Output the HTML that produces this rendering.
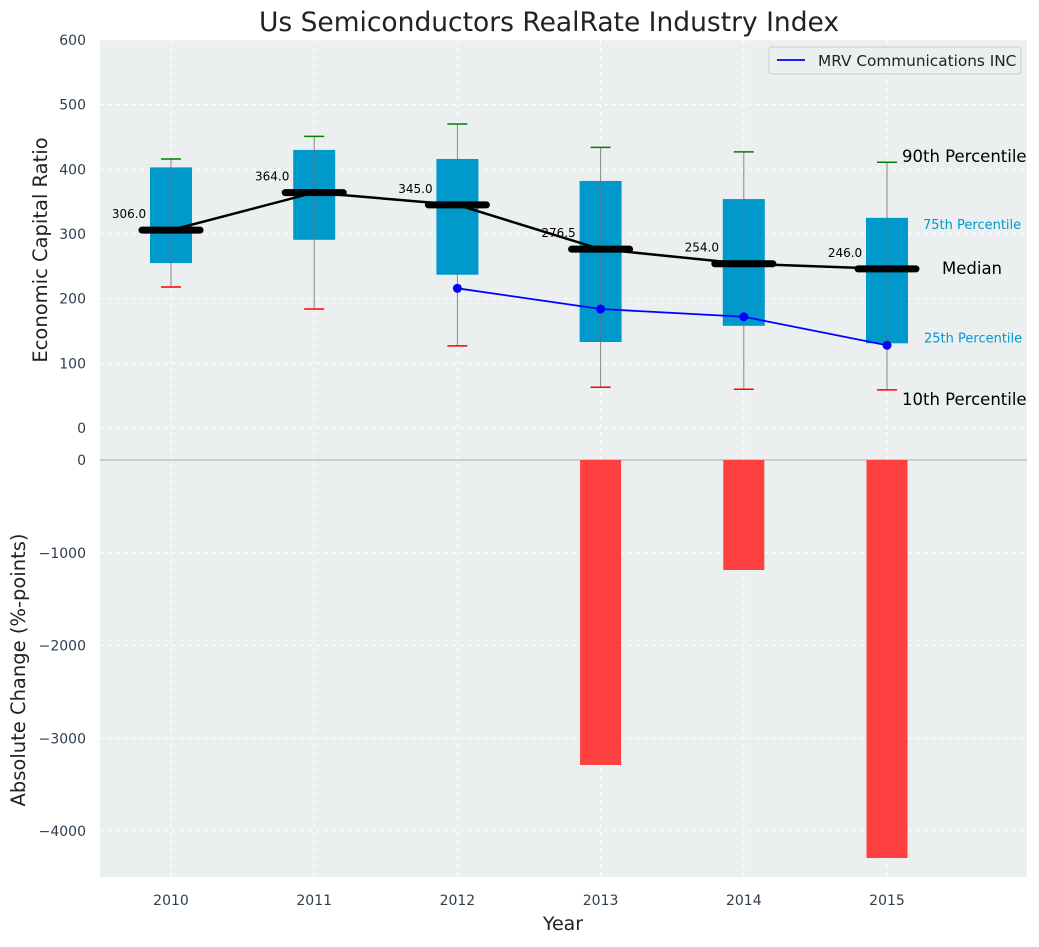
<!DOCTYPE html>
<html><head><meta charset="utf-8"><style>
body{margin:0;background:#fff;font-family:"Liberation Sans","DejaVu Sans",sans-serif}
</style></head><body>
<svg id="c" width="1039" height="942" xmlns="http://www.w3.org/2000/svg" font-family="DejaVu Sans, Liberation Sans, sans-serif"></svg>
<script>
const years=[2010,2011,2012,2013,2014,2015];
const p10=[218,184,127,63,60,59];
const p25=[255,291,237,133,158,131];
const med=[306,364,345,276.5,254,246];
const p75=[403,430,416,382,354,325];
const p90=[416,451,470,434,427,411];
const mrvYears=[2012,2013,2014,2015];
const mrv=[216,184,172,128];
const changeYears=[2013,2014,2015];
const change=[-3288,-1186,-4291];
const topTicks=[0,100,200,300,400,500,600];
const botTicks=[0,-1000,-2000,-3000,-4000];

const svg=document.getElementById('c');const NS='http://www.w3.org/2000/svg';
function el(t,a,txt){const e=document.createElementNS(NS,t);for(const k in a)e.setAttribute(k,a[k]);if(txt!==undefined)e.textContent=txt;svg.appendChild(e);return e;}
const X=v=>171+(v-2010)*143.2;
const YT=v=>428-v*0.6467;
const YB=v=>460+(-v)*0.09275;
let e;
e=el('rect',{x:100,y:40,width:927,height:837,fill:'#eceff0'});

years.forEach(y=>{e=el('line',{x1:X(y),x2:X(y),y1:40,y2:877,stroke:'#fff','stroke-dasharray':'4,4'});
});
topTicks.forEach(t=>{e=el('line',{x1:100,x2:1027,y1:YT(t),y2:YT(t),stroke:'#fff','stroke-dasharray':'4,4'});

e=el('text',{x:86,y:YT(t)+5,'text-anchor':'end','font-size':14,fill:'#2e3f50'},t);
});
botTicks.forEach(t=>{e=el('line',{x1:100,x2:1027,y1:YB(t),y2:YB(t),stroke:'#fff','stroke-dasharray':'4,4'});

e=el('text',{x:86,y:YB(t)+5,'text-anchor':'end','font-size':14,fill:'#2e3f50'},t===0?'0':'\u2212'+(-t));
});
e=el('line',{x1:100,x2:1027,y1:460,y2:460,stroke:'#aaa','stroke-width':1});

years.forEach((y,i)=>{const x=X(y);
e=el('line',{x1:x,x2:x,y1:YT(p90[i]),y2:YT(p10[i]),stroke:'#888','stroke-width':1});

e=el('rect',{x:x-21,y:YT(p75[i]),width:42,height:YT(p25[i])-YT(p75[i]),fill:'#0099cc'});

e=el('line',{x1:x,x2:x,y1:YT(p75[i]),y2:YT(p25[i]),stroke:'#4a7a90','stroke-width':1});

e=el('line',{x1:x-10,x2:x+10,y1:YT(p90[i]),y2:YT(p90[i]),stroke:'green','stroke-width':1.5});

e=el('line',{x1:x-10,x2:x+10,y1:YT(p10[i]),y2:YT(p10[i]),stroke:'red','stroke-width':1.5});

});
e=el('polyline',{points:years.map((y,i)=>X(y)+','+YT(med[i])).join(' '),fill:'none',stroke:'#000','stroke-width':2.5});

years.forEach((y,i)=>{const x=X(y);
e=el('line',{x1:x-29,x2:x+29,y1:YT(med[i]),y2:YT(med[i]),stroke:'#000','stroke-width':7,'stroke-linecap':'round'});

e=el('text',{x:x-42,y:YT(med[i])-12,'text-anchor':'middle','font-size':12,fill:'#000'},med[i].toFixed(1));
});
e=el('polyline',{points:mrvYears.map((y,i)=>X(y)+','+YT(mrv[i])).join(' '),fill:'none',stroke:'blue','stroke-width':1.8});

mrvYears.forEach((y,i)=>{e=el('circle',{cx:X(y),cy:YT(mrv[i]),r:4.5,fill:'blue'});
});
const L=X(2015);
[[L+15,YT(p90[5])+0,'90th Percentile',16.5,'#000'],[L+36,YT(p75[5])+11,'75th Percentile',13,'#0099cc'],[L+55,YT(med[5])+5,'Median',16.5,'#000'],[L+37,YT(p25[5])-1,'25th Percentile',13,'#0099cc'],[L+15,YT(p10[5])+15,'10th Percentile',16.5,'#000']].forEach(a=>{
e=el('text',{x:a[0],y:a[1],'font-size':a[3],fill:a[4]},a[2]);});
changeYears.forEach((y,i)=>{e=el('rect',{x:X(y)-20.5,y:YB(0),width:41,height:YB(change[i])-YB(0),fill:'#ff4040'});
});
years.forEach(y=>{e=el('text',{x:X(y),y:905,'text-anchor':'middle','font-size':14,fill:'#2e3f50'},y);
});
e=el('text',{x:563,y:930,'text-anchor':'middle','font-size':19,fill:'#222'},'Year');
e=el('text',{x:549,y:31,'text-anchor':'middle','font-size':26.5,fill:'#222'},'Us Semiconductors RealRate Industry Index');
e=el('text',{x:0,y:0,'text-anchor':'middle','font-size':19.5,fill:'#222',transform:'translate(47,250) rotate(-90)'},'Economic Capital Ratio');
e=el('text',{x:0,y:0,'text-anchor':'middle','font-size':19.5,fill:'#222',transform:'translate(25,670) rotate(-90)'},'Absolute Change (%-points)');
e=el('rect',{x:769,y:47,width:252,height:27,rx:3,fill:'#eceff0',stroke:'#ccc'});
e=el('line',{x1:777,x2:805,y1:60,y2:60,stroke:'blue','stroke-width':1.8});
e=el('text',{x:818,y:66,'font-size':15.3,fill:'#222'},'MRV Communications INC');
</script>
</body></html>
